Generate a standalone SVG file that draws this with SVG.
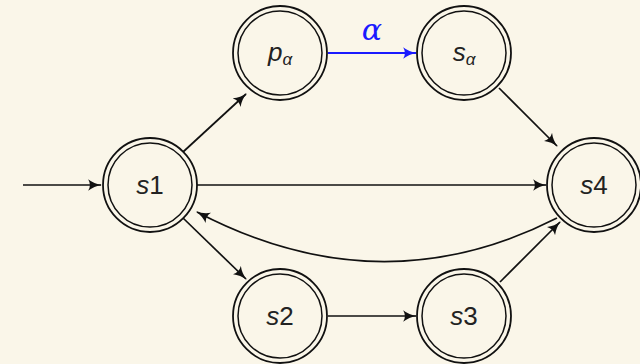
<svg xmlns="http://www.w3.org/2000/svg" width="640" height="364" viewBox="0 0 640 364">
<style>
.o{fill:none;stroke:#111;stroke-width:1.8}
.i{fill:none;stroke:#111;stroke-width:1.5}
.e{fill:none;stroke:#111;stroke-width:1.7}
.b{fill:none;stroke:#1a1aff;stroke-width:1.8}
.t{font-family:"Liberation Sans","DejaVu Sans",sans-serif;font-style:italic;font-size:26px;fill:#222;text-anchor:middle}
.n{font-style:normal}
.s{font-size:17px}
</style>
<defs>
<marker id="a" viewBox="0 0 12 10" refX="11" refY="5" markerWidth="14" markerHeight="12" markerUnits="userSpaceOnUse" orient="auto">
<path d="M0,0 Q5,4 12,5 Q5,6 0,10 Q3,5 0,0Z" fill="#111"/>
</marker>
<marker id="ab" viewBox="0 0 12 10" refX="11" refY="5" markerWidth="14" markerHeight="12" markerUnits="userSpaceOnUse" orient="auto">
<path d="M0,0 Q5,4 12,5 Q5,6 0,10 Q3,5 0,0Z" fill="#1a1aff"/>
</marker>
</defs>
<rect width="640" height="364" fill="#faf6e9"/>
<g id="connectors">
<line class="e" x1="23" y1="185" x2="101" y2="185" marker-end="url(#a)"/>
<line class="e" x1="183" y1="152" x2="246" y2="94" marker-end="url(#a)"/>
<line class="b" x1="328" y1="53" x2="416" y2="53" marker-end="url(#ab)"/>
<text x="372" y="40" style="font-family:'DejaVu Serif',serif;font-style:italic;font-size:30px;fill:#1a1aff;text-anchor:middle">α</text>
<line class="e" x1="499" y1="88" x2="557" y2="146" marker-end="url(#a)"/>
<line class="e" x1="197" y1="185" x2="546" y2="185" marker-end="url(#a)"/>
<path class="e" d="M557,218 Q380,308 197,212" marker-end="url(#a)"/>
<line class="e" x1="183" y1="218" x2="246" y2="279" marker-end="url(#a)"/>
<line class="e" x1="328" y1="316" x2="416" y2="316" marker-end="url(#a)"/>
<line class="e" x1="500" y1="282" x2="560" y2="222" marker-end="url(#a)"/>
</g>
<g id="s1"><circle class="o" cx="150" cy="185" r="47"/><circle class="i" cx="150" cy="185" r="42"/><text class="t" x="150" y="194">s<tspan class="n">1</tspan></text></g>
<g id="pa"><circle class="o" cx="280" cy="53" r="47"/><circle class="i" cx="280" cy="53" r="42"/><text class="t" x="280" y="61">p<tspan class="s" dy="4">α</tspan></text></g>
<g id="sa"><circle class="o" cx="464" cy="53" r="47"/><circle class="i" cx="464" cy="53" r="42"/><text class="t" x="464" y="61">s<tspan class="s" dy="4">α</tspan></text></g>
<g id="s4"><circle class="o" cx="594" cy="185" r="47"/><circle class="i" cx="594" cy="185" r="42"/><text class="t" x="594" y="194">s<tspan class="n">4</tspan></text></g>
<g id="s2"><circle class="o" cx="280" cy="316" r="47"/><circle class="i" cx="280" cy="316" r="42"/><text class="t" x="280" y="325">s<tspan class="n">2</tspan></text></g>
<g id="s3"><circle class="o" cx="464" cy="316" r="47"/><circle class="i" cx="464" cy="316" r="42"/><text class="t" x="464" y="325">s<tspan class="n">3</tspan></text></g>
</svg>
